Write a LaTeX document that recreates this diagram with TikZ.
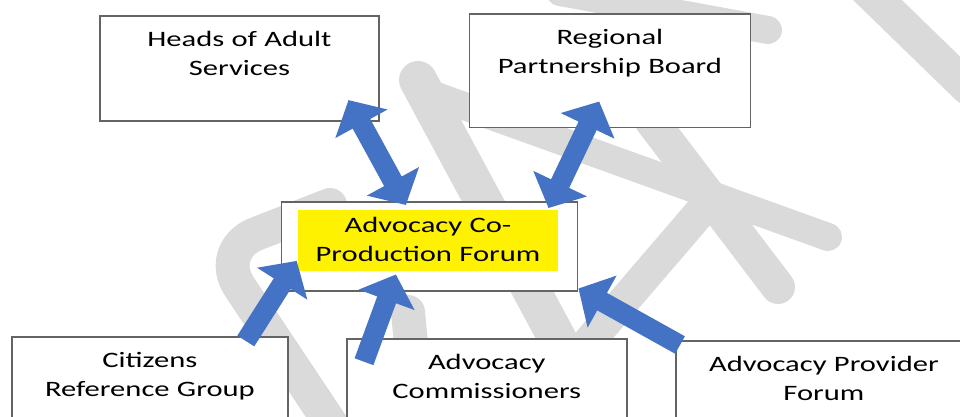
\documentclass[tikz,border=0pt]{standalone}
\usepackage{fontspec}
\setmainfont{Carlito}[FakeStretch=1.39]
\usetikzlibrary{arrows.meta}
\usetikzlibrary{positioning}

\definecolor{boxline}{RGB}{100,100,100}
\definecolor{arrowblue}{RGB}{68,114,196}
\definecolor{markgray}{RGB}{218,218,218}

\begin{document}
\begin{tikzpicture}[
        x=0.5pt, y=-0.5pt,
        every node/.style={font=\fontsize{11}{14.5}\selectfont},
        box/.style={draw=boxline, line width=0.9pt, fill=white, align=center, text width=125pt, inner ysep=0pt, text height=15.25pt, anchor=north west},
        highlight/.style={fill=yellow, align=center, text width=122pt, minimum width=130pt, inner ysep=0pt, text height=11.1pt, text depth=19.2pt},
        arrow/.style={arrowblue, line width=10pt, >={Triangle[width=29pt, length=13.5pt]}},
        band/.style={markgray, line cap=round, line join=round}
    ]
    \useasboundingbox (0,0) rectangle (960,417);
    \clip (0,0) rectangle (960,417);

    % Watermark strokes in the background
    \draw[band, line width=19pt] (612,440) -- (418,80);
    \draw[band, line width=14pt] (425,92) -- (828,237);
    \draw[band, line width=17pt] (651,120) -- (778,287);
    \draw[band, line width=14pt] (560,-8) -- (768,30);
    \draw[band, line width=17pt] (862,-15) -- (968,88);
    \draw[band, line width=17pt, rounded corners=22pt] (345,445) -- (215,250) -- (330,205);
    \draw[band, line width=17pt] (408,312) -- (420,440);
    \draw[band, line width=16pt] (708,203) -- (575,358);

    % Nodes
    \node[box, minimum width=139.5pt, text depth=37.25pt] (heads) at (99,15) {Heads of Adult\\Services};
    \node[box, minimum width=140.5pt, text depth=41.45pt] (regional) at (468.5,13.3) {Regional\\Partnership Board};
    \node[box, minimum width=148pt, minimum height=44.25pt, text depth=0pt] (forum) at (280.5,201.5) {};
    \node[highlight] (forumtext) at (428,240.75) {Advocacy Co-\\Production Forum};
    \node[box, minimum width=138.3pt, text depth=31.75pt] (citizens) at (10.7,336) {Citizens\\Reference Group};
    \node[box, minimum width=139.9pt, text depth=30.6pt] (commissioners) at (346,338.3) {Advocacy\\Commissioners};
    \node[box, minimum width=148pt, text depth=29.75pt] (provider) at (675,340) {Advocacy Provider\\Forum};

    % Arrows
    \draw[arrow, <->] ([shift={(-31.3,-21.7)}]heads.south east) -- ([shift={(-23.5,3.5)}]forum.north);
    \draw[arrow, <->] ([shift={(-10.7,-27)}]regional.south) -- ([shift={(-29.8,6.5)}]forum.north east);
    \draw[arrow, ->] ([shift={(-43.3,5)}]citizens.north east) -- ([shift={(16.2,14.25)}]forum.west);
    \draw[arrow, ->] ([shift={(18,23.4)}]commissioners.north west) -- ([shift={(-33.5,-17.3)}]forum.south);
    \draw[arrow, ->] ([shift={(5,5)}]provider.north west) -- ([shift={(0.2,-3.3)}]forum.south east);

\end{tikzpicture}
\end{document}
